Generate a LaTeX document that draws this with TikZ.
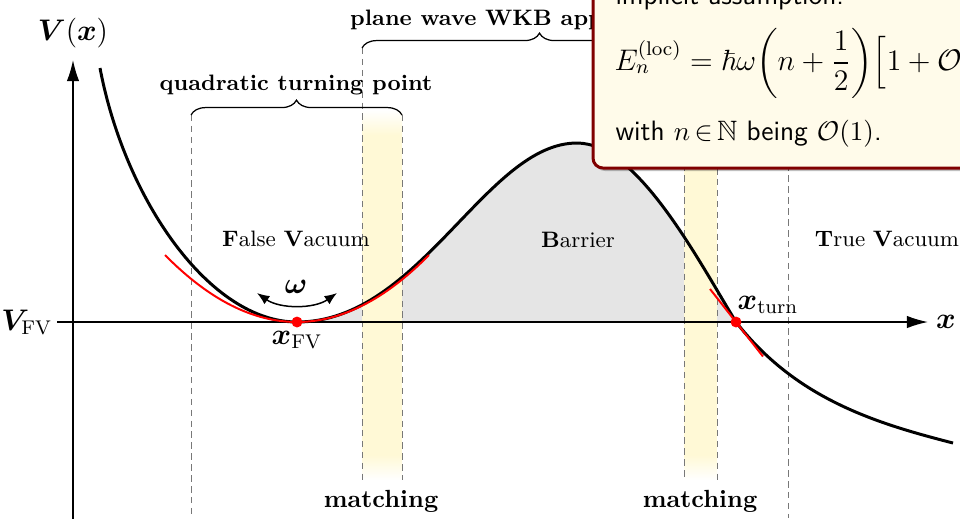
\documentclass[tikz,border=0pt]{standalone}
\usepackage{amsmath,amssymb,bm}
\usetikzlibrary{arrows.meta,decorations.pathreplacing}
\definecolor{bandyellow}{RGB}{255,249,214}
\definecolor{barriergray}{RGB}{229,229,229}
\definecolor{boxred}{RGB}{128,0,0}
\definecolor{boxfill}{RGB}{255,251,234}
\definecolor{dashgray}{RGB}{120,120,120}
\begin{document}
\begin{tikzpicture}[x=0.4032pt,y=-0.4032pt,
  potential/.style={line width=1.2pt, black},
  approx/.style={line width=0.8pt, red},
  axisline/.style={line width=0.6pt, -{Latex[length=8.5pt,width=5pt]}},
  divider/.style={dashgray, line width=0.4pt, dash pattern=on 2.6pt off 1.8pt},
  bracestyle/.style={decorate, decoration={brace, amplitude=6pt}, line width=0.5pt},
  bracelabel/.style={font=\small\bfseries, anchor=base},
  region/.style={font=\small, anchor=base},
  matchlabel/.style={font=\bfseries, anchor=base},
  dot/.style={circle, fill=red, inner sep=0pt, minimum size=4.4pt},
  boxtext/.style={font=\fontsize{11.3}{13.5}\selectfont\sffamily, inner sep=0pt}
]
\path[use as bounding box] (0,0) rectangle (960,518);
\clip (0,0) rectangle (960,518);

% key coordinates
\coordinate (start) at (100,68);
\coordinate (xfv) at (297,322);
\coordinate (top) at (577,143);
\coordinate (xturn) at (736,322);
\coordinate (end) at (953,443);

% barrier fill
\fill[barriergray] (xfv) .. controls (420,322) and (486,143) .. (top)
  .. controls (637,143) and (697,258) .. (xturn) -- cycle;

% matching bands
\foreach \a/\b in {362/402, 684/717} {
  \shade[top color=white, bottom color=bandyellow] (\a,110) rectangle (\b,135);
  \fill[bandyellow] (\a,134.5) rectangle (\b,455.5);
  \shade[top color=bandyellow, bottom color=white] (\a,455) rectangle (\b,480);
}

% dashed dividers
\draw[divider] (191,115) -- (191,518);
\draw[divider] (362,48) -- (362,480);
\draw[divider] (402,115) -- (402,480);
\draw[divider] (684,110) -- (684,480);
\draw[divider] (717,48) -- (717,480);
\draw[divider] (788,110) -- (788,518);

% braces
\draw[bracestyle] (191,115) -- (402,115);
\node[bracelabel] (quadlabel) at (296,90) {quadratic turning point};
\draw[bracestyle] (362,48) -- (717,48);
\node[bracelabel] (wkblabel) at (539,25) {plane wave WKB approximation};

% axes
\coordinate (yaxbot) at (73,520);
\coordinate (yaxtop) at (73,60);
\coordinate (xaxleft) at (57,322);
\coordinate (xaxright) at (928,322);
\draw[axisline] (yaxbot) -- (yaxtop);
\draw[axisline] (xaxleft) -- (xaxright);

% potential
\draw[potential] (start) .. controls (125,200) and (210,322) .. (xfv)
  .. controls (420,322) and (486,143) .. (top)
  .. controls (637,143) and (697,258) .. (xturn)
  .. controls (796,398.8) and (875,423) .. (end);

% approximations
\draw[approx] (165,255) .. controls (253,344.3) and (341,344.3) .. (429,255);
\coordinate (tanA) at (710,289);
\coordinate (tanB) at (763,356.5);
\draw[approx] (tanA) -- (tanB);

% omega arrow
\coordinate (omL) at (257,293);
\coordinate (omR) at (337,293);
\draw[line width=0.6pt, {Latex[length=5pt,width=4pt]}-{Latex[length=5pt,width=4pt]}]
  (omL) .. controls (280,309) and (314,309) .. (omR);
\node (omega) at (296,287) {\large$\bm{\omega}$};

% points
\node[dot] (dfv) at (xfv) {};
\node[dot] (dturn) at (xturn) {};
\node (xfvlabel) at (297,340) {\large$\bm{x}_{\mathrm{FV}}$};
\node (xturnlabel) at (768,305) {\large$\bm{x}_{\mathrm{turn}}$};

% axis labels
\node (vlabel) at (73,33) {\large$\bm{V}(\bm{x})$};
\node[anchor=base east, inner sep=0pt] (vfv) at (53,330) {\large$\bm{V}_{\mathrm{FV}}$};
\node (xlabel) at (946,322) {\large$\bm{x}$};

% region labels
\node[region] (fv) at (296,246) {\textbf{F}alse \textbf{V}acuum};
\node[region] (bar) at (578,247) {\textbf{B}arrier};
\node[region] (tv) at (887,246) {\textbf{T}rue \textbf{V}acuum};

% matching labels
\node[matchlabel] (m1) at (381,507) {matching};
\node[matchlabel] (m2) at (700,507) {matching};

% assumption box
\fill[black, opacity=0.25, rounded corners=4pt] (595,-30) rectangle (1012,171);
\draw[boxred, line width=1.2pt, fill=boxfill, rounded corners=4pt] (593,-30) rectangle (1010,168);
\node[boxtext, anchor=base west] (assume) at (615,4) {implicit assumption:};
\node[boxtext, anchor=west, font=\fontsize{11.8}{14}\selectfont\sffamily] (formula) at (614,63)
  {$E_n^{(\mathrm{loc})}=\hbar\omega\biggl(n+\dfrac{1}{2}\biggr)\Bigl[1+\mathcal{O}$};
\node[boxtext, anchor=base west] (cond) at (615,140) {with $n\,{\in}\,\mathbb{N}$ being $\mathcal{O}(1)$.};
\end{tikzpicture}
\end{document}
